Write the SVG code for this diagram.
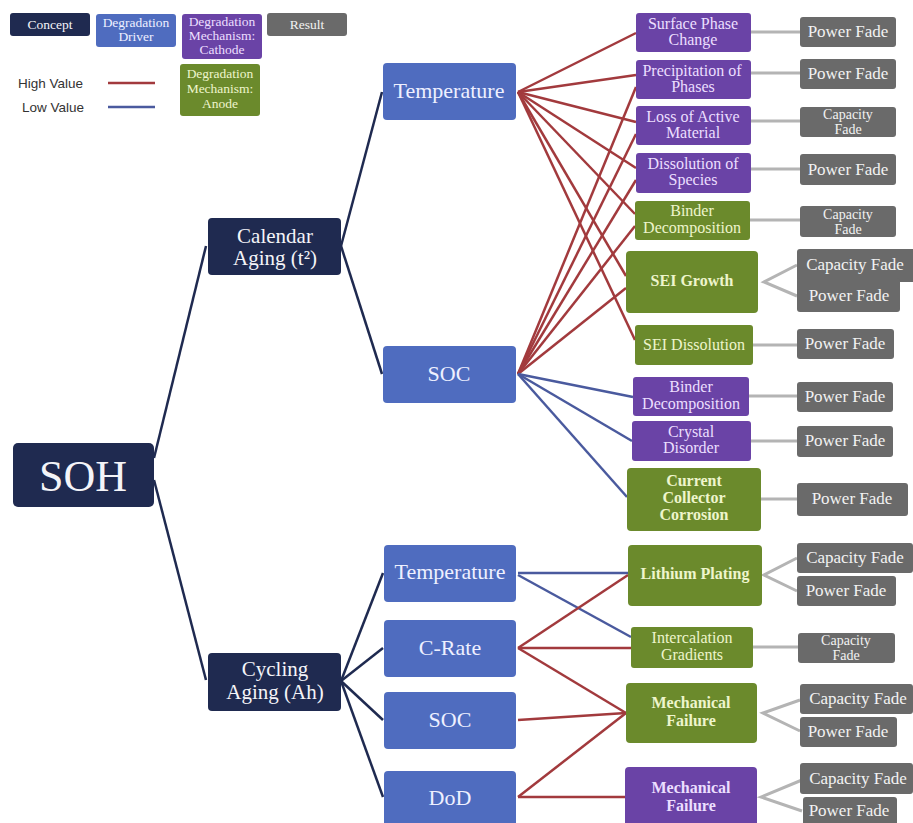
<svg xmlns="http://www.w3.org/2000/svg" width="913" height="823" viewBox="0 0 913 823">
<style>
.bg{fill:#ffffff}
.con{fill:#1f2a50}
.drv{fill:#4f6cbf}
.cat{fill:#6a43a6}
.ano{fill:#6b8a2c}
.res{fill:#6a6a6a}
text{font-family:"Liberation Serif","Times New Roman",serif;text-anchor:middle}
.tc{fill:#f4f4f8}
.td{fill:#eef0ff}
.tp{fill:#ecdfff}
.tg{fill:#eef5cc}
.tr{fill:#f2f2f2}
.b{font-weight:bold}
.leg{font-family:"Liberation Sans",Arial,sans-serif;text-anchor:start;fill:#333333;font-size:13.5px}
.hi{stroke:#a23a3d;stroke-width:2.5;fill:none}
.lo{stroke:#4a5a9e;stroke-width:2.5;fill:none}
.dk{stroke:#1f2a50;stroke-width:2.5;fill:none}
.gr{stroke:#b4b4b4;stroke-width:3;fill:none}
.s13{font-size:13.5px}
.s14{font-size:14px}
.s16{font-size:16px}
.s17{font-size:17px}
.s21{font-size:21px}
.s22{font-size:22px}
</style>
<rect class="bg" x="0" y="0" width="913" height="823"/>

<g id="legend">
  <rect class="con" x="10" y="13" width="80" height="23" rx="3"/>
  <text class="tc s13" x="50" y="29">Concept</text>
  <rect class="drv" x="96" y="14" width="80" height="33" rx="3"/>
  <text class="td s13" x="136" y="27">Degradation</text>
  <text class="td s13" x="136" y="41">Driver</text>
  <rect class="cat" x="182" y="14" width="80" height="45" rx="3"/>
  <text class="tp s13" x="222" y="26">Degradation</text>
  <text class="tp s13" x="222" y="40">Mechanism:</text>
  <text class="tp s13" x="222" y="54">Cathode</text>
  <rect class="res" x="267" y="13" width="80" height="23" rx="3"/>
  <text class="tr s13" x="307" y="29">Result</text>
  <rect class="ano" x="180" y="64" width="80" height="52" rx="3"/>
  <text class="tg s13" x="220" y="78">Degradation</text>
  <text class="tg s13" x="220" y="93">Mechanism:</text>
  <text class="tg s13" x="220" y="108">Anode</text>
  <text class="leg" x="18" y="88">High Value</text>
  <line class="hi" x1="108" y1="83" x2="155" y2="83"/>
  <text class="leg" x="22" y="112">Low Value</text>
  <line class="lo" x1="108" y1="107" x2="155" y2="107"/>
</g>

<g id="connectors">
  <line class="dk" x1="154" y1="458" x2="206" y2="246"/>
  <line class="dk" x1="154" y1="480" x2="206" y2="680"/>
  <line class="dk" x1="341" y1="246" x2="382" y2="92"/>
  <line class="dk" x1="341" y1="246" x2="382" y2="374"/>
  <line class="dk" x1="341" y1="681" x2="383" y2="573"/>
  <line class="dk" x1="341" y1="681" x2="383" y2="648"/>
  <line class="dk" x1="341" y1="681" x2="383" y2="720"/>
  <line class="dk" x1="341" y1="681" x2="383" y2="797"/>

  <line class="hi" x1="518" y1="92" x2="636" y2="33"/>
  <line class="hi" x1="518" y1="92" x2="636" y2="75"/>
  <line class="hi" x1="518" y1="92" x2="636" y2="122"/>
  <line class="hi" x1="518" y1="92" x2="636" y2="168"/>
  <line class="hi" x1="518" y1="92" x2="635" y2="214"/>
  <line class="hi" x1="518" y1="92" x2="626" y2="276"/>
  <line class="hi" x1="518" y1="92" x2="635" y2="340"/>

  <line class="hi" x1="518" y1="374" x2="636" y2="87"/>
  <line class="hi" x1="518" y1="374" x2="636" y2="134"/>
  <line class="hi" x1="518" y1="374" x2="636" y2="180"/>
  <line class="hi" x1="518" y1="374" x2="635" y2="226"/>
  <line class="hi" x1="518" y1="374" x2="626" y2="288"/>

  <line class="lo" x1="518" y1="374" x2="633" y2="397"/>
  <line class="lo" x1="518" y1="374" x2="632" y2="441"/>
  <line class="lo" x1="518" y1="374" x2="627" y2="497"/>

  <line class="lo" x1="518" y1="573" x2="628" y2="573"/>
  <line class="lo" x1="518" y1="575" x2="631" y2="637"/>
  <line class="hi" x1="518" y1="648" x2="628" y2="575"/>
  <line class="hi" x1="518" y1="648" x2="631" y2="648"/>
  <line class="hi" x1="518" y1="648" x2="626" y2="713"/>
  <line class="hi" x1="518" y1="720" x2="626" y2="713"/>
  <line class="hi" x1="518" y1="797" x2="626" y2="713"/>
  <line class="hi" x1="518" y1="797" x2="625" y2="797"/>

  <line class="gr" x1="751" y1="32" x2="800" y2="32"/>
  <line class="gr" x1="751" y1="73" x2="800" y2="73"/>
  <line class="gr" x1="751" y1="121" x2="800" y2="121"/>
  <line class="gr" x1="751" y1="169" x2="800" y2="169"/>
  <line class="gr" x1="750" y1="220" x2="800" y2="220"/>
  <polyline class="gr" points="797,265 764,282 797,296"/>
  <line class="gr" x1="753" y1="345" x2="797" y2="345"/>
  <line class="gr" x1="749" y1="396" x2="797" y2="396"/>
  <line class="gr" x1="751" y1="441" x2="797" y2="441"/>
  <line class="gr" x1="761" y1="499" x2="797" y2="499"/>
  <polyline class="gr" points="797,558 764,575 797,591"/>
  <line class="gr" x1="753" y1="647" x2="798" y2="647"/>
  <polyline class="gr" points="800,700 763,713 800,731"/>
  <polyline class="gr" points="802,780 761,797 802,811"/>
</g>

<g id="soh"><rect class="con" x="13" y="443" width="141" height="64" rx="5"/><text class="tc" style="font-size:44px" x="83" y="491">SOH</text></g>
<g id="calendar"><rect class="con" x="208" y="218" width="133" height="57" rx="4"/><text class="tc s21" x="275" y="243">Calendar</text><text class="tc s21" x="275" y="265">Aging (t²)</text></g>
<g id="cycling"><rect class="con" x="208" y="653" width="133" height="58" rx="4"/><text class="tc s21" x="275" y="676">Cycling</text><text class="tc s21" x="275" y="699">Aging (Ah)</text></g>

<g id="temp1"><rect class="drv" x="383" y="63" width="133" height="57" rx="4"/><text class="td s22" x="449" y="98">Temperature</text></g>
<g id="soc1"><rect class="drv" x="383" y="346" width="133" height="57" rx="4"/><text class="td s22" x="449" y="381">SOC</text></g>
<g id="temp2"><rect class="drv" x="384" y="545" width="132" height="57" rx="4"/><text class="td s22" x="450" y="579">Temperature</text></g>
<g id="crate"><rect class="drv" x="384" y="620" width="132" height="57" rx="4"/><text class="td s22" x="450" y="655">C-Rate</text></g>
<g id="soc2"><rect class="drv" x="384" y="692" width="132" height="57" rx="4"/><text class="td s22" x="450" y="727">SOC</text></g>
<g id="dod"><rect class="drv" x="384" y="771" width="132" height="60" rx="4"/><text class="td s22" x="450" y="805">DoD</text></g>

<g id="m-spc"><rect class="cat" x="636" y="13" width="115" height="39" rx="3"/><text class="tp s16" x="693" y="29">Surface Phase</text><text class="tp s16" x="693" y="45">Change</text></g>
<g id="m-pop"><rect class="cat" x="636" y="60" width="115" height="39" rx="3"/><text class="tp s16" x="692" y="76">Precipitation of</text><text class="tp s16" x="693" y="92">Phases</text></g>
<g id="m-lam"><rect class="cat" x="636" y="106" width="115" height="39" rx="3"/><text class="tp s16" x="693" y="122">Loss of Active</text><text class="tp s16" x="693" y="138">Material</text></g>
<g id="m-dos"><rect class="cat" x="636" y="153" width="115" height="40" rx="3"/><text class="tp s16" x="693" y="169">Dissolution of</text><text class="tp s16" x="693" y="185">Species</text></g>
<g id="m-bd1"><rect class="ano" x="635" y="201" width="115" height="39" rx="3"/><text class="tg s16" x="692" y="216">Binder</text><text class="tg s16" x="692" y="233">Decomposition</text></g>
<g id="m-seig"><rect class="ano" x="626" y="251" width="132" height="62" rx="4"/><text class="tg s16 b" x="692" y="286">SEI Growth</text></g>
<g id="m-seid"><rect class="ano" x="635" y="325" width="118" height="40" rx="3"/><text class="tg s16" x="694" y="350">SEI Dissolution</text></g>
<g id="m-bd2"><rect class="cat" x="633" y="377" width="116" height="39" rx="3"/><text class="tp s16" x="691" y="392">Binder</text><text class="tp s16" x="691" y="409">Decomposition</text></g>
<g id="m-cd"><rect class="cat" x="632" y="421" width="119" height="40" rx="3"/><text class="tp s16" x="691" y="437">Crystal</text><text class="tp s16" x="691" y="453">Disorder</text></g>
<g id="m-ccc"><rect class="ano" x="627" y="468" width="134" height="63" rx="4"/><text class="tg s16 b" x="694" y="486">Current</text><text class="tg s16 b" x="694" y="503">Collector</text><text class="tg s16 b" x="694" y="520">Corrosion</text></g>
<g id="m-lp"><rect class="ano" x="628" y="545" width="134" height="61" rx="4"/><text class="tg s16 b" x="695" y="579">Lithium Plating</text></g>
<g id="m-ig"><rect class="ano" x="631" y="627" width="122" height="41" rx="3"/><text class="tg s16" x="692" y="643">Intercalation</text><text class="tg s16" x="692" y="660">Gradients</text></g>
<g id="m-mf1"><rect class="ano" x="626" y="683" width="131" height="60" rx="4"/><text class="tg s16 b" x="691" y="708">Mechanical</text><text class="tg s16 b" x="691" y="726">Failure</text></g>
<g id="m-mf2"><rect class="cat" x="625" y="767" width="132" height="62" rx="4"/><text class="tp s16 b" x="691" y="793">Mechanical</text><text class="tp s16 b" x="691" y="811">Failure</text></g>

<g id="r1"><rect class="res" x="800" y="17" width="96" height="30" rx="3"/><text class="tr s17" x="848" y="37">Power Fade</text></g>
<g id="r2"><rect class="res" x="800" y="59" width="96" height="30" rx="3"/><text class="tr s17" x="848" y="79">Power Fade</text></g>
<g id="r3"><rect class="res" x="800" y="107" width="96" height="30" rx="3"/><text class="tr s14" x="848" y="119">Capacity</text><text class="tr s14" x="848" y="134">Fade</text></g>
<g id="r4"><rect class="res" x="800" y="154" width="96" height="31" rx="3"/><text class="tr s17" x="848" y="175">Power Fade</text></g>
<g id="r5"><rect class="res" x="800" y="206" width="96" height="31" rx="3"/><text class="tr s14" x="848" y="219">Capacity</text><text class="tr s14" x="848" y="234">Fade</text></g>
<g id="r6"><rect class="res" x="797" y="249" width="120" height="33" rx="3"/><rect class="res" x="797" y="278" width="103" height="34" rx="3"/><text class="tr s17" x="855" y="270">Capacity Fade</text><text class="tr s17" x="849" y="301">Power Fade</text></g>
<g id="r7"><rect class="res" x="797" y="329" width="97" height="30" rx="3"/><text class="tr s17" x="845" y="349">Power Fade</text></g>
<g id="r8"><rect class="res" x="797" y="382" width="96" height="30" rx="3"/><text class="tr s17" x="845" y="402">Power Fade</text></g>
<g id="r9"><rect class="res" x="797" y="426" width="96" height="31" rx="3"/><text class="tr s17" x="845" y="446">Power Fade</text></g>
<g id="r10"><rect class="res" x="797" y="483" width="111" height="33" rx="3"/><text class="tr s17" x="852" y="504">Power Fade</text></g>
<g id="r11"><rect class="res" x="797" y="543" width="116" height="30" rx="3"/><rect class="res" x="797" y="576" width="99" height="30" rx="3"/><text class="tr s17" x="855" y="563">Capacity Fade</text><text class="tr s17" x="846" y="596">Power Fade</text></g>
<g id="r12"><rect class="res" x="798" y="633" width="97" height="30" rx="3"/><text class="tr s14" x="846" y="645">Capacity</text><text class="tr s14" x="846" y="660">Fade</text></g>
<g id="r13"><rect class="res" x="800" y="684" width="113" height="30" rx="3"/><rect class="res" x="800" y="717" width="97" height="30" rx="3"/><text class="tr s17" x="858" y="704">Capacity Fade</text><text class="tr s17" x="848" y="737">Power Fade</text></g>
<g id="r14"><rect class="res" x="800" y="763" width="113" height="31" rx="3"/><rect class="res" x="803" y="797" width="94" height="30" rx="3"/><text class="tr s17" x="858" y="784">Capacity Fade</text><text class="tr s17" x="849" y="816">Power Fade</text></g>
</svg>
